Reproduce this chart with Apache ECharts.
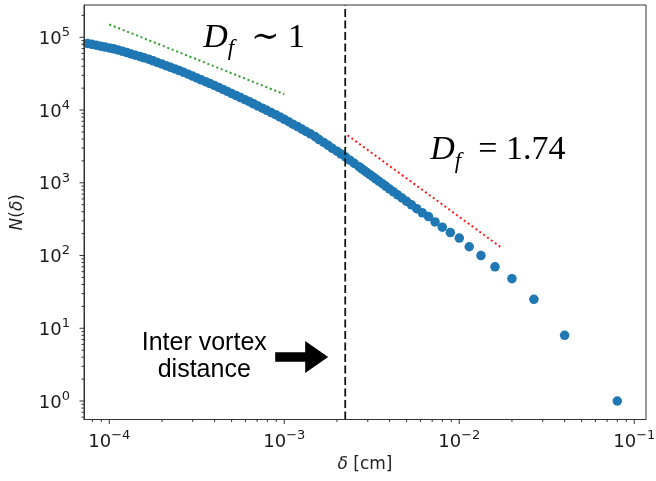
<!DOCTYPE html>
<html>
<head>
<meta charset="utf-8">
<script src="https://cdn.jsdelivr.net/npm/echarts@6/dist/echarts.min.js"></script>
<style>
  html, body { margin: 0; padding: 0; background: #ffffff; }
  #chart { width: 656px; height: 481px; }
</style>
</head>
<body>
<div id="chart"></div>
<script>
// Box size delta [cm] and number of occupied boxes N(delta)
const delta = [
  0.08, 0.04, 0.0267, 0.02, 0.016, 0.0133, 0.0114, 0.01, 0.00889, 0.008, 0.00727, 0.00667, 0.00615,
  0.00571, 0.00533, 0.005, 0.00471, 0.00444, 0.00421, 0.004, 0.00381, 0.00364, 0.00348, 0.00333,
  0.0032, 0.00308, 0.00296, 0.00286, 0.00276, 0.00267,
  0.00251, 0.00237, 0.00224, 0.00211, 0.00200, 0.00188, 0.00178, 0.00168, 0.00158, 0.00150,
  0.00141, 0.00133, 0.00126, 0.00119, 0.00112, 0.00106, 0.00100, 0.000944, 0.000891, 0.000841,
  0.000794, 0.000750, 0.000708, 0.000668, 0.000631, 0.000596, 0.000562, 0.000531, 0.000501, 0.000473,
  0.000447, 0.000422, 0.000398, 0.000376, 0.000355, 0.000335, 0.000316, 0.000299, 0.000282, 0.000266,
  0.000251, 0.000237, 0.000224, 0.000211, 0.000200, 0.000188, 0.000178, 0.000168, 0.000158, 0.000150,
  0.000141, 0.000133, 0.000126, 0.000119, 0.000112, 0.000106, 0.000100, 0.0000944, 0.0000891, 0.0000841,
  0.0000794, 0.0000750
];
const boxCount = [
  1, 8, 25, 48, 70, 100, 132, 174, 207, 245, 290, 343, 387,
  441, 497, 556, 618, 683, 751, 821, 894, 970, 1048, 1129,
  1213, 1299, 1387, 1477, 1570, 1666,
  1849, 2046, 2261, 2480, 2720, 2982, 3270, 3586, 3933, 4313,
  4706, 5080, 5484, 5922, 6392, 6902, 7450, 8044, 8634, 9246,
  9902, 10600, 11350, 12160, 13020, 13900, 14820, 15800, 16860, 17980,
  19180, 20460, 21790, 23120, 24540, 26040, 27630, 29330, 31120, 33030,
  34850, 36710, 38670, 40730, 42900, 45170, 47570, 50050, 52180, 54400,
  56720, 59120, 61640, 64250, 66990, 69440, 71430, 73490, 75610, 77820,
  80090, 82410
];

// Reference slopes: D_f ~ 1 (small scales) and D_f = 1.74 (large scales)
const guideOneDelta = [1.0e-4, 1.0e-3];
const guideOneCount = [1.5e5, 1.65e4];
const guideTwoDelta = [2.3e-3, 1.76e-2];
const guideTwoCount = [4500, 126];

// Inter vortex distance marker
const vortexDelta = 2.23e-3;

// Axis ranges and decade ticks
const xRange = [7.17e-5, 0.1167];
const yRange = [0.557, 2.78e5];
const xDecades = [1e-4, 1e-3, 1e-2, 1e-1];
const yDecades = [1, 10, 100, 1e3, 1e4, 1e5];

// Annotation anchors in data coordinates
const dfOneAnchor = [3.44e-4, 1.63e5];
const dfTwoAnchor = [6.83e-3, 4645];
const noteAnchor = [3.49e-4, 4.03];
const arrowTip = [1.782e-3, 4.03];

function minorTicks(range) {
  const out = [];
  const lo = Math.floor(Math.log10(range[0]));
  const hi = Math.ceil(Math.log10(range[1]));
  for (let e = lo; e <= hi; e++) {
    for (let m = 2; m <= 9; m++) {
      const v = m * Math.pow(10, e);
      if (v > range[0] && v < range[1]) out.push(v);
    }
  }
  return out;
}

const tickItems = [];
xDecades.forEach(v => tickItems.push([v, yRange[0], 0, 1]));
minorTicks(xRange).forEach(v => tickItems.push([v, yRange[0], 0, 0]));
yDecades.forEach(v => tickItems.push([xRange[0], v, 1, 1]));
minorTicks(yRange).forEach(v => tickItems.push([xRange[0], v, 1, 0]));

function decadeLabel(v) {
  const e = Math.log10(v);
  const r = Math.round(e);
  if (Math.abs(e - r) > 1e-6) return '';
  const exp = r < 0 ? '\u2212' + (-r) : String(r);
  return '{b|10}{s|' + exp + '}';
}

const labelRich = {
  b: { fontFamily: 'DejaVu Sans', fontSize: 18, lineHeight: 22, verticalAlign: 'bottom', color: '#1a1a1a' },
  s: { fontFamily: 'DejaVu Sans', fontSize: 13, lineHeight: 8, verticalAlign: 'top', color: '#1a1a1a' }
};

const INK = '#333';
const nameStyle = {
  fontFamily: 'DejaVu Sans', fontSize: 17, color: '#222',
  rich: { i: { fontFamily: 'DejaVu Sans', fontSize: 17, fontStyle: 'italic', color: '#222' } }
};

const chart = echarts.init(document.getElementById('chart'), null, { renderer: 'canvas' });

chart.setOption({
  animation: false,
  backgroundColor: '#ffffff',
  grid: {
    left: 84, right: 10, top: 5, bottom: 61.5,
    show: true, borderColor: INK, borderWidth: 1, backgroundColor: 'transparent',
    containLabel: false, outerBoundsMode: 'none'
  },
  xAxis: {
    type: 'log', logBase: 10, min: xRange[0], max: xRange[1], z: 5,
    axisLine: { show: true, lineStyle: { color: INK, width: 1 } },
    axisTick: { show: false },
    splitLine: { show: false },
    axisLabel: { margin: 10, formatter: decadeLabel, rich: labelRich },
    name: '{i|\u03b4} [cm]', nameLocation: 'middle', nameGap: 34,
    nameTextStyle: nameStyle
  },
  yAxis: {
    type: 'log', logBase: 10, min: yRange[0], max: yRange[1], z: 5,
    axisLine: { show: true, lineStyle: { color: INK, width: 1 } },
    axisTick: { show: false },
    splitLine: { show: false },
    axisLabel: { margin: 14, formatter: decadeLabel, rich: labelRich },
    name: '{i|N}({i|\u03b4})', nameLocation: 'middle', nameGap: 58,
    nameTextStyle: nameStyle
  },
  series: [
    {
      type: 'scatter',
      data: delta.map((d, i) => [d, boxCount[i]]),
      symbol: 'circle', symbolSize: 9.5,
      itemStyle: { color: '#1f77b4', opacity: 1, borderWidth: 0 },
      silent: true, z: 2
    },
    {
      type: 'line',
      data: [[vortexDelta, yRange[0]], [vortexDelta, yRange[1]]],
      symbol: 'none', silent: true, z: 3,
      lineStyle: { color: '#111', width: 1.8, type: [8, 3.5] }
    },
    {
      type: 'line',
      data: guideOneDelta.map((d, i) => [d, guideOneCount[i]]),
      symbol: 'none', silent: true, z: 3,
      lineStyle: { color: '#2ca02c', width: 2, type: [2, 2.8] }
    },
    {
      type: 'line',
      data: guideTwoDelta.map((d, i) => [d, guideTwoCount[i]]),
      symbol: 'none', silent: true, z: 3,
      lineStyle: { color: '#ff1a1a', width: 2, type: [2, 2.8] }
    },
    {
      type: 'custom',
      coordinateSystem: 'cartesian2d',
      silent: true, z: 6, clip: false,
      data: tickItems,
      renderItem: function (params, api) {
        const onX = api.value(2) === 0;
        const len = api.value(3) ? 4.5 : 2.5;
        const p = api.coord([api.value(0), api.value(1)]);
        const shape = onX
          ? { x1: p[0], y1: p[1], x2: p[0], y2: p[1] + len }
          : { x1: p[0], y1: p[1], x2: p[0] - len, y2: p[1] };
        return { type: 'line', shape: shape, style: { stroke: INK, lineWidth: 1 } };
      }
    }
  ]
});

// Text annotations and the arrow, placed from data coordinates
const px = v => chart.convertToPixel({ gridIndex: 0 }, v);
const dfRich = {
  d: { fontFamily: 'Liberation Serif', fontSize: 34, fontStyle: 'italic', lineHeight: 28, verticalAlign: 'top', fill: '#000' },
  f: { fontFamily: 'Liberation Serif', fontSize: 23, fontStyle: 'italic', lineHeight: 40, verticalAlign: 'bottom', fill: '#000' },
  r: { fontFamily: 'Liberation Serif, DejaVu Serif', fontSize: 34, lineHeight: 28, verticalAlign: 'top', fill: '#000' }
};
const a1 = px(dfOneAnchor);
const a2 = px(dfTwoAnchor);
const an = px(noteAnchor);
const tip = px(arrowTip);

chart.setOption({
  graphic: [
    {
      type: 'text', x: a1[0], y: a1[1] - 1, z: 10, silent: true,
      style: { text: '{d|D}{f|f}{r|  \u223c 1}', rich: dfRich, align: 'left', verticalAlign: 'top' }
    },
    {
      type: 'text', x: a2[0], y: a2[1] - 1, z: 10, silent: true,
      style: { text: '{d|D}{f|f}{r|  = 1.74}', rich: dfRich, align: 'left', verticalAlign: 'top' }
    },
    {
      type: 'text', x: an[0], y: an[1], z: 10, silent: true,
      style: {
        text: 'Inter vortex\ndistance', fontFamily: 'Liberation Sans', fontSize: 25,
        lineHeight: 27, fill: '#000', align: 'center', verticalAlign: 'middle'
      }
    },
    {
      type: 'polygon', x: tip[0], y: tip[1], z: 10, silent: true,
      shape: { points: [[-53, -4.7], [-23, -4.7], [-23, -16], [0, 0], [-23, 16], [-23, 4.7], [-53, 4.7]] },
      style: { fill: '#000' }
    }
  ]
});
</script>
</body>
</html>
